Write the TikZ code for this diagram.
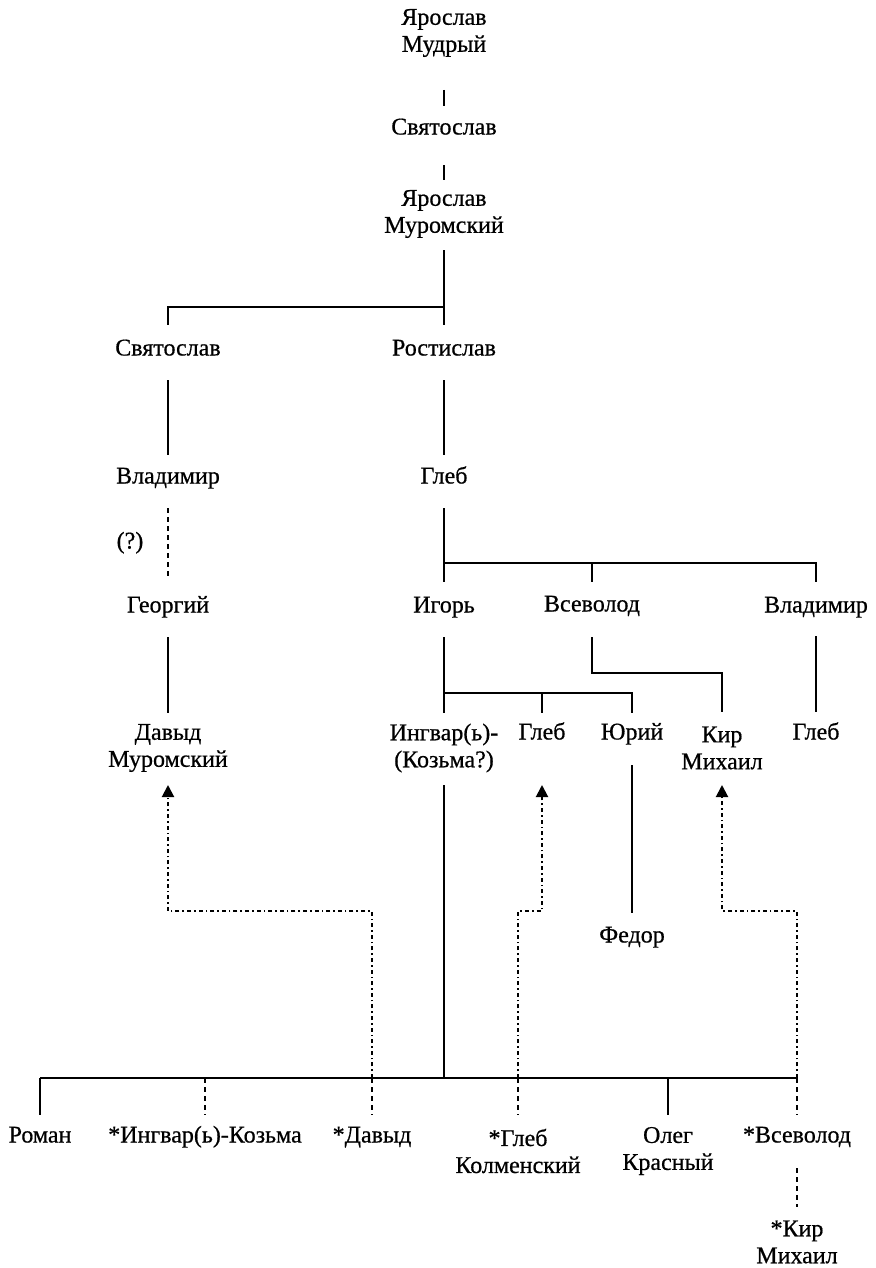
\documentclass[tikz,border=0pt]{standalone}
\usepackage{fontspec}
\setmainfont{Liberation Serif}[FakeBold=0.6]
\usetikzlibrary{arrows.meta}

\begin{document}
\begin{tikzpicture}[x=0.5pt, y=-0.5pt,
    prince/.style={inner sep=0pt, font=\fontsize{12}{13.5}\selectfont, text height=8pt, text depth=2.5pt},
    prince2/.style={inner sep=0pt, font=\fontsize{12}{13.5}\selectfont, align=center},
    tie/.style={line width=1pt},
    thintie/.style={line width=0.8pt},
    guess/.style={line width=1pt, dash pattern=on 2.5pt off 2pt},
    later/.style={line width=1pt, dash pattern=on 2pt off 1.5pt on 0.8pt off 1.5pt, -{Triangle[width=6pt,length=6pt]}}]
    \useasboundingbox (0,0) rectangle (876,1268);
    % Upper line
    \node[prince2] (jm1) at (444,33) {Ярослав\\Мудрый};
    \node[prince] (sv1) at (444,129) {Святослав};
    \node[prince2] (jm2) at (444,214) {Ярослав\\Муромский};
    \node[prince] (sv2) at (168,350) {Святослав};
    \node[prince] (ro) at (444,350) {Ростислав};
    \node[prince] (vl1) at (168,478) {Владимир};
    \node[prince] (gl1) at (444,478) {Глеб};
    \node[prince] (q) at (130,543) {(?)};
    \node[prince] (ge) at (168,607) {Георгий};
    \node[prince] (ig) at (444,607) {Игорь};
    \node[prince] (vs1) at (592,606) {Всеволод};
    \node[prince] (vl2) at (816,607) {Владимир};
    \node[prince2] (da1) at (168,748) {Давыд\\Муромский};
    \node[prince2] (in1) at (444,748) {Ингвар(ь)-\\(Козьма?)};
    \node[prince] (gl2) at (542,734) {Глеб};
    \node[prince] (ju) at (632,734) {Юрий};
    \node[prince2] (ki1) at (722,748) {Кир\\Михаил};
    \node[prince] (gl3) at (816,734) {Глеб};
    \node[prince] (fe) at (632,937) {Федор};
    % Lower line
    \node[prince] (roman) at (40,1137) {Роман};
    \node[prince] (in2) at (205,1137) {*Ингвар(ь)-Козьма};
    \node[prince] (dav) at (372,1137) {*Давыд};
    \node[prince2] (gl4) at (518,1151) {*Глеб\\Колменский};
    \node[prince2] (ol) at (668,1151) {Олег\\Красный};
    \node[prince] (vs2) at (797,1137) {*Всеволод};
    \node[prince2] (ki2) at (797,1242) {*Кир\\Михаил};
    % Junctions
    \coordinate (b1) at (444,307);
    \coordinate (b2) at (444,563);
    \coordinate (b3) at (444,693);
    \coordinate (b4) at (722,673);
    \coordinate (b5) at (444,1078);
    \coordinate (b6) at (444,911);
    % Upper connectors
    \draw[tie, shorten <=28.5pt, shorten >=11.5pt] (jm1.center) -- (sv1.center);
    \draw[tie, shorten <=18pt, shorten >=17pt] (sv1.center) -- (jm2.center);
    \draw[tie, shorten <=18pt, shorten >=12.5pt] (jm2.center) -- (ro.center);
    \draw[tie, shorten >=12.5pt] (b1) -| (sv2.center);
    \draw[tie, shorten <=15pt, shorten >=11.5pt] (sv2.center) -- (vl1.center);
    \draw[tie, shorten <=15pt, shorten >=11.5pt] (ro.center) -- (gl1.center);
    \draw[guess, shorten <=15pt, shorten >=14.5pt] (vl1.center) -- (ge.center);
    \draw[tie, shorten <=15pt, shorten >=12.5pt] (gl1.center) -- (ig.center);
    \draw[tie, shorten >=12pt] (b2) -| (vs1.center);
    \draw[tie, shorten >=12.5pt] (b2) -| (vl2.center);
    \draw[tie, shorten <=15pt, shorten >=17.5pt] (ge.center) -- (da1.center);
    \draw[tie, shorten <=15pt, shorten >=17.5pt] (ig.center) -- (in1.center);
    \draw[tie, shorten >=10.5pt] (b3) -| (gl2.center);
    \draw[tie, shorten >=10.5pt] (b3) -| (ju.center);
    \draw[thintie, shorten <=15.5pt, shorten >=18pt] (vs1.center) |- (b4) -- (ki1.center);
    \draw[tie, shorten <=14.5pt, shorten >=11pt] (vl2.center) -- (gl3.center);
    \draw[tie, shorten <=15.5pt, shorten >=12pt] (ju.center) -- (fe.center);
    % Lower bar
    \draw[tie, shorten <=18.5pt] (in1.center) -- (b5);
    \draw[tie] (roman.center |- b5) -- (vs2.center |- b5);
    \draw[tie, shorten >=11pt] (roman.center |- b5) -- (roman.center);
    \draw[guess, shorten >=11pt] (in2.center |- b5) -- (in2.center);
    \draw[guess, shorten >=11pt] (dav.center |- b5) -- (dav.center);
    \draw[guess, shorten >=18pt] (gl4.center |- b5) -- (gl4.center);
    \draw[tie, shorten >=18pt] (ol.center |- b5) -- (ol.center);
    \draw[guess, shorten >=11pt] (vs2.center |- b5) -- (vs2.center);
    \draw[guess, shorten <=15.5pt, shorten >=17.5pt] (vs2.center) -- (ki2.center);
    % Identified with
    \draw[later, shorten >=18.5pt] (dav.center |- b5) -- (dav.center |- b6) -| (da1.center);
    \draw[later, shorten >=25.5pt] (gl4.center |- b5) -- (gl4.center |- b6) -| (gl2.center);
    \draw[later, shorten >=18.5pt] (vs2.center |- b5) -- (vs2.center |- b6) -| (ki1.center);
\end{tikzpicture}
\end{document}
